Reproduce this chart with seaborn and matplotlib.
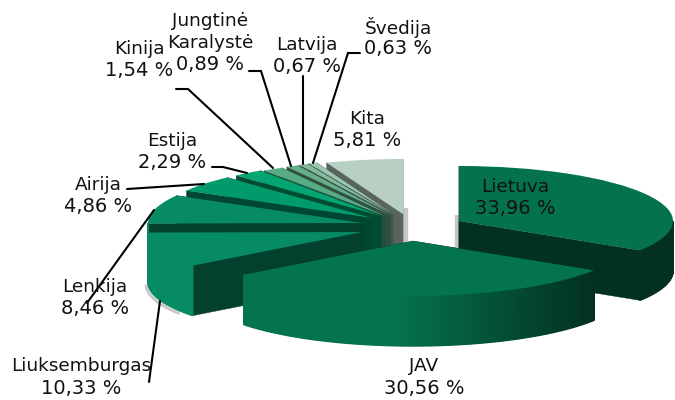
import numpy as np
import matplotlib
matplotlib.use("Agg")
import matplotlib.pyplot as plt
from matplotlib.colors import to_rgb
from matplotlib.lines import Line2D
from matplotlib.patches import Polygon
import seaborn as sns

names = ["Lietuva", "JAV", "Liuksemburgas", "Lenkija", "Airija", "Estija", "Kinija",
         "Jungtinė\nKaralystė", "Latvija", "Švedija", "Kita"]
shares = [33.96, 30.56, 10.33, 8.46, 4.86, 2.29, 1.54, 0.89, 0.67, 0.63, 5.81]
tops = ["#04724f", "#04744f", "#068b65", "#068b65", "#019a6b", "#04a572", "#57ab84",
        "#66ad8b", "#84b99f", "#9cc7b1", "#b7d0c1"]

# styling / layout (pixels)
W, H = 675, 400
RX, RY, DEPTH = 214, 55, 50
CX, CY = 403, 225
slice_shift = [(56, -4), (10, 16), (-41, 7), (-41, -2), (-31, -7), (-22, -9),
               (-18, -9), (-13, -10), (-11, -10.5), (-10, -11), (0, -11)]
draw_rank = [9, 10, 8, 7, 6, 5, 4, 3, 2, 1, 0]  # higher is later
label_pos = [(515, 198), (424, 377), (81, 377), (95, 298), (98, 196), (172, 152),
             (139, 60), (210, 43), (307, 56), (398, 38), (367, 130)]
leaders = [
    [(176, 89), (188, 89), (273, 168)],
    [(249, 71), (261, 71), (291, 166)],
    [(303, 76), (303, 164)],
    [(360, 53), (348, 53), (313, 163)],
    [(212, 167), (223, 167), (247, 173)],
    [(127, 189), (204, 184)],
    [(87, 303), (154, 210)],
    [(149, 382), (160, 301)],
]

sns.set_theme(style="white")
plt.rcParams["font.family"] = ["DejaVu Sans"]
fig = plt.figure(figsize=(W / 100, H / 100), dpi=100)
ax = fig.add_axes([0, 0, 1, 1])

wedges, _ = ax.pie(shares, colors=tops, startangle=90, counterclock=False, radius=1,
                   wedgeprops={"linewidth": 0})
ax.set_aspect("auto")
ax.set_xlim(-CX / RX, (W - CX) / RX)
ax.set_ylim((CY - H) / RY, CY / RY)
ax.set_axis_off()


def scaled(c, f):
    return tuple(min(1.0, v * f) for v in to_rgb(c))


def shade(x):
    if x < -0.1:
        return 1.0
    return max(0.42, 1.0 - (x + 0.1) / 0.95 * 0.58)


d = DEPTH / RY
for i, w in enumerate(wedges):
    z0 = 2 + draw_rank[i] * 3
    dx, dy = slice_shift[i]
    cx, cy = dx / RX, -dy / RY
    w.set_center((cx, cy))
    w.set_zorder(z0 + 2)
    base = tops[i]
    face_f = 0.48 if i == 10 else 0.42 if i < 2 else 0.46
    a1, a2 = w.theta1, w.theta2
    edges = sorted([a1, a2], key=lambda a: -np.sin(np.radians(a)))
    for a in edges:
        ex, ey = cx + np.cos(np.radians(a)), cy + np.sin(np.radians(a))
        ax.add_patch(Polygon([(cx, cy), (ex, ey), (ex, ey - d), (cx, cy - d)], closed=True,
                             fc=scaled(base, face_f), ec=scaled(base, face_f), lw=0.3,
                             zorder=z0))
    angs = np.append(np.arange(a1, a2, 1.0), a2)
    for p, q in zip(angs[:-1], angs[1:]):
        m = np.radians((p + q) / 2)
        if np.sin(m) >= 0.0:
            continue
        rp, rq = np.radians(p), np.radians(q)
        pts = [(cx + np.cos(rp), cy + np.sin(rp)), (cx + np.cos(rq), cy + np.sin(rq)),
               (cx + np.cos(rq), cy + np.sin(rq) - d), (cx + np.cos(rp), cy + np.sin(rp) - d)]
        col = scaled(base, shade(np.cos(m)))
        ax.add_patch(Polygon(pts, closed=True, fc=col, ec=col, lw=1.0, zorder=z0 + 1,
                             joinstyle="bevel"))

# soft drop shadows beside the extruded slices
lux = wedges[2]
lcx, lcy = lux.center
sh = np.radians(np.linspace(lux.theta2 - 2, lux.theta2 - 30, 30)) * 0 + np.radians(np.linspace(182, 212, 30))
ax.plot(lcx + np.cos(sh) - 2 / RX, lcy + np.sin(sh) - d - 2 / RY, color="#8a8a8a", lw=2.2,
        alpha=0.45, zorder=1, solid_capstyle="round")
for idx, off in [(0, -2.5), (10, 2.5)]:
    cx0, cy0 = wedges[idx].center
    ax.plot([cx0 + off / RX] * 2, [cy0 + 6 / RY, cy0 - 28 / RY], color="#9a9a9a", lw=3.2,
            alpha=0.55, zorder=1, solid_capstyle="butt")

line_gap = 22
for name, val, (x, y) in zip(names, shares, label_pos):
    lines = name.split("\n") + [f"{val:.2f} %".replace(".", ",")]
    for k, line in enumerate(lines):
        yy = y + (k - (len(lines) - 1) / 2) * line_gap
        size = 14 if k == len(lines) - 1 else 13.3
        fig.text(x / W, 1 - yy / H, line, ha="center", va="center", fontsize=size,
                 color="#111111", zorder=60)

for pts in leaders:
    xs = [p[0] / W for p in pts]
    ys = [1 - p[1] / H for p in pts]
    fig.add_artist(Line2D(xs, ys, color="black", lw=1.5, zorder=55, solid_joinstyle="miter"))

fig.savefig("out.png", dpi=100)
